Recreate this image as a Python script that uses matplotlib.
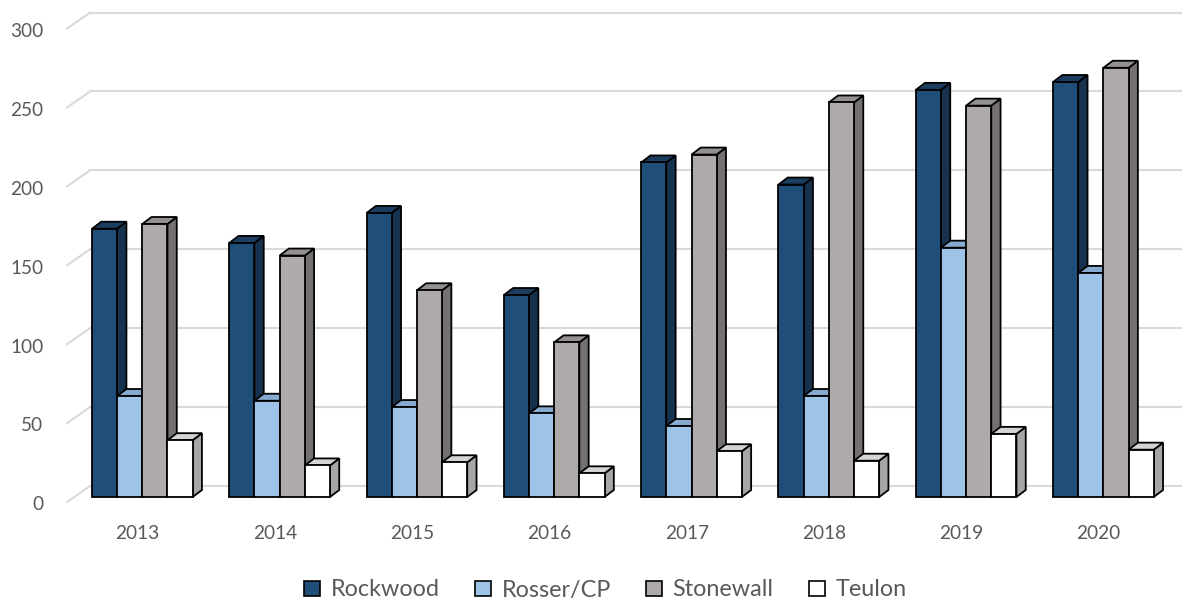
import matplotlib
matplotlib.use("Agg")
import matplotlib.pyplot as plt
from matplotlib.patches import Polygon, Patch

years = ["2013", "2014", "2015", "2016", "2017", "2018", "2019", "2020"]
series = ["Rockwood", "Rosser/CP", "Stonewall", "Teulon"]
rockwood = [170, 161, 180, 128, 212, 198, 258, 263]
rosser = [64, 61, 57, 53, 45, 64, 158, 142]
stonewall = [173, 153, 131, 98, 217, 250, 248, 272]
teulon = [36, 20, 22, 15, 29, 23, 40, 30]
yticks = [0, 50, 100, 150, 200, 250, 300]

# front / side / top shade for each series
faces = [
    ("#1F4E79", "#16324F", "#1B3D60"),
    ("#9DC3E6", "#7A9FC2", "#86AAD0"),
    ("#AEAAAA", "#767171", "#949090"),
    ("#FFFFFF", "#A6A6A6", "#D4D4D4"),
]

plt.rcParams["font.family"] = ["Lato", "DejaVu Sans"]
TXT = "#595959"
GRID = "#D9D9D9"

W = 0.1833          # bar width (category units)
DX, DY = 0.0677, 4.44   # bar depth offset
WX0, WX1 = -0.548, -0.381  # side-wall edge, front and back
WY0, WY1 = -3.17, 6.97

fig = plt.figure(figsize=(11.82, 6.07), dpi=100)
ax = fig.add_axes([0, 0, 1, 1])
ax.set_xlim(-1.0364, 7.5724)
ax.set_ylim(-69.7, 314.95)
ax.axis("off")

# back wall + side wall gridlines
for v in yticks:
    ax.plot([WX0, WX1], [v + WY0, v + WY1], color=GRID, lw=1.5, zorder=0)
    ax.plot([WX1, 7.6], [v + WY1, v + WY1], color=GRID, lw=1.5, zorder=0)
    ax.text(-0.72, v - 5, str(v), ha="right", va="center", fontsize=13.7, color=TXT)

data = [rockwood, rosser, stonewall, teulon]
z = 1
for i, yr in enumerate(years):
    left = i - 2 * W
    for k, vals in enumerate(data):
        h = vals[i]
        x0 = left + k * W
        x1 = x0 + W
        front, side, top = faces[k]
        kw = dict(ec="black", lw=1.3, joinstyle="miter", zorder=z)
        ax.add_patch(Polygon([(x1, 0), (x1 + DX, DY), (x1 + DX, h + DY), (x1, h)], fc=side, **kw))
        ax.add_patch(Polygon([(x0, h), (x1, h), (x1 + DX, h + DY), (x0 + DX, h + DY)], fc=top, **kw))
        ax.add_patch(Polygon([(x0, 0), (x1, 0), (x1, h), (x0, h)], fc=front, **kw))
        z += 1
    ax.text(i - 0.035, -23.3, yr, ha="center", va="center", fontsize=13.7, color=TXT)

handles = [Patch(fc=f[0], ec="black", lw=1.2) for f in faces]
fig.legend(handles, series, loc="center", bbox_to_anchor=(0.512, 1 - 590 / 607), ncol=4,
           frameon=False, fontsize=16.8, labelcolor=TXT, handlelength=0.7, handleheight=0.65,
           handletextpad=0.45, columnspacing=1.5)

fig.savefig("out.png", dpi=100)
